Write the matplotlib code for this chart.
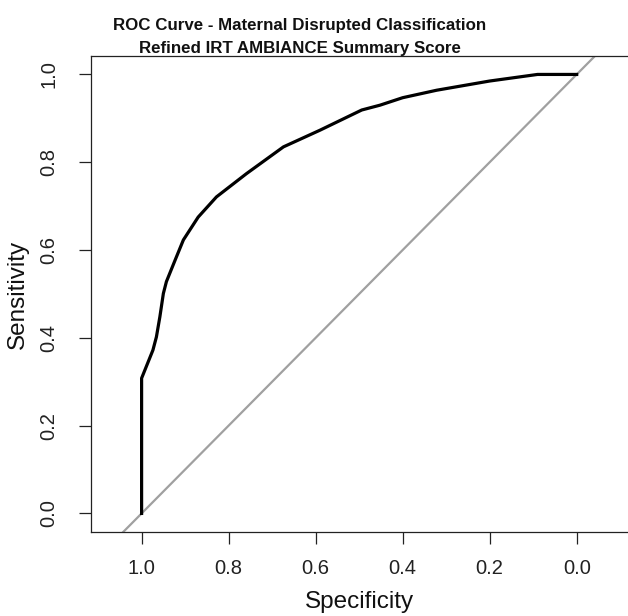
import matplotlib
matplotlib.use("Agg")
import matplotlib.pyplot as plt
from matplotlib import font_manager

# ROC points (specificity, sensitivity)
specificity = [1.0, 1.0, 0.974, 0.966, 0.958, 0.950, 0.943, 0.923, 0.904,
               0.870, 0.828, 0.759, 0.674, 0.590, 0.494, 0.452, 0.40,
               0.322, 0.20, 0.09, 0.0]
sensitivity = [0.0, 0.308, 0.372, 0.402, 0.448, 0.501, 0.528, 0.577, 0.623,
               0.675, 0.721, 0.774, 0.835, 0.873, 0.919, 0.930, 0.947,
               0.964, 0.985, 1.0, 1.0]
ticks = [1.0, 0.8, 0.6, 0.4, 0.2, 0.0]
tick_labels = ["1.0", "0.8", "0.6", "0.4", "0.2", "0.0"]
title_lines = ["ROC Curve - Maternal Disrupted Classification",
               "Refined IRT AMBIANCE Summary Score"]

plt.rcParams['font.family'] = ['Liberation Sans', 'DejaVu Sans']

# the title in the reference is set in a narrow face; use one if present
names = {f.name for f in font_manager.fontManager.ttflist}
if 'Liberation Sans Narrow' in names:
    title_font, title_size = 'Liberation Sans Narrow', 14.8
else:
    title_font, title_size = 'Liberation Sans', 12.2

W, H = 628, 616
fig = plt.figure(figsize=(W / 100, H / 100), dpi=100)
ax = fig.add_axes([90.7 / W, (H - 532.3) / H, (627.6 - 90.7) / W, (532.3 - 56) / H])

# chance line, drawn across the whole box like abline()
ax.axline((1, 0), (0, 1), color="#a0a0a0", lw=1.6)
ax.plot(specificity, sensitivity, color="black", lw=2.3, solid_joinstyle="round")

ax.set_xlim(1.117, -0.117)
ax.set_ylim(-0.043, 1.042)
ax.set_xticks(ticks)
ax.set_xticklabels(tick_labels)
ax.set_yticks(ticks[::-1])
ax.set_yticklabels(tick_labels[::-1])
ax.spines['right'].set_visible(False)
for s in ['left', 'bottom', 'top']:
    ax.spines[s].set_linewidth(0.9)
    ax.spines[s].set_color("#222222")

ax.tick_params(axis='both', length=8.5, width=0.9, color="#222222",
               labelsize=14.5, labelcolor="#222222")
ax.tick_params(axis='x', pad=11)
ax.tick_params(axis='y', pad=15)
for lab in ax.get_yticklabels():
    lab.set_rotation(90)
    lab.set_va('center')

ax.set_xlabel("Specificity", fontsize=17.5, color="#111111", labelpad=9)
ax.set_ylabel("Sensitivity", fontsize=17.5, color="#111111", labelpad=7)

fig.text(300 / W, 1 - 30 / H, title_lines[0], ha='center', va='baseline',
         fontsize=title_size, fontweight='bold', family=title_font, color="#111111")
fig.text(300 / W, 1 - 53 / H, title_lines[1], ha='center', va='baseline',
         fontsize=title_size, fontweight='bold', family=title_font, color="#111111")

fig.savefig("out.png", dpi=100)
